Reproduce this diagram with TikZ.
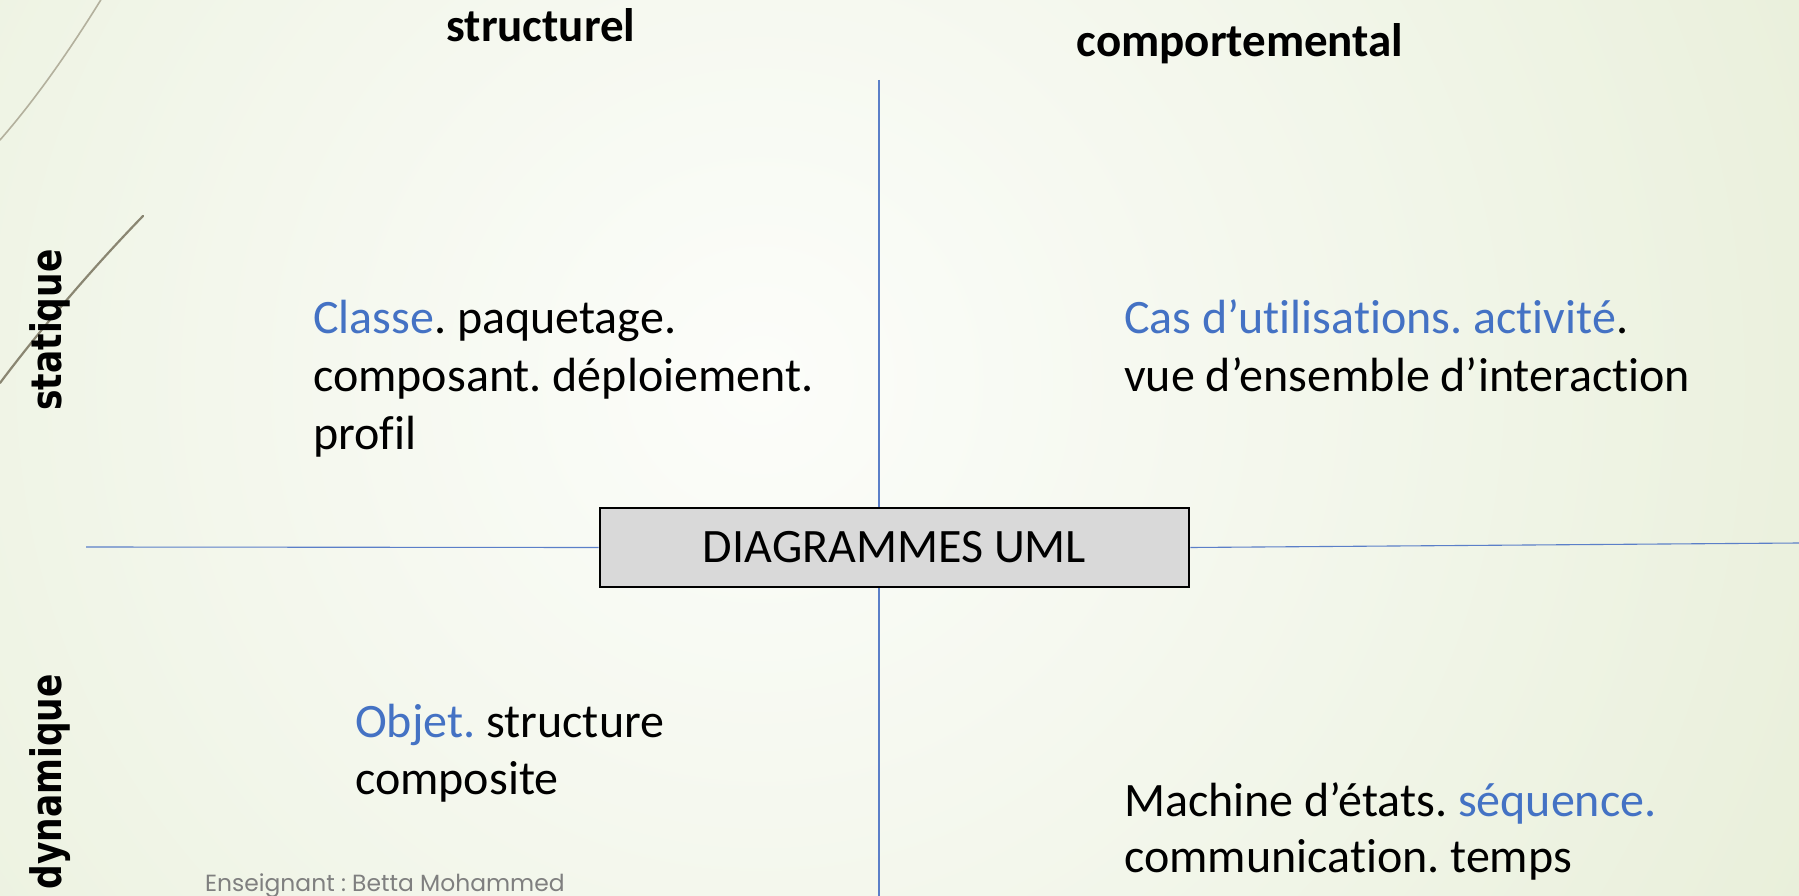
\documentclass[tikz,border=0pt]{standalone}
\usepackage{fontspec}
\setmainfont{Carlito}[RawFeature={-liga;-clig}]
\newfontfamily\sidefont{DejaVu Sans}
\newfontfamily\footfont{Poppins}
\frenchspacing
\definecolor{ublue}{HTML}{4472C4}
\definecolor{lineblue}{HTML}{5B7FC8}
\definecolor{boxgray}{HTML}{D9D9D9}
\definecolor{footgray}{HTML}{7F7F7F}
\definecolor{grassA}{HTML}{B3B09D}
\definecolor{grassB}{HTML}{8A8672}
\definecolor{bgin}{HTML}{FCFDFA}
\definecolor{bgmid}{HTML}{F2F6EA}
\definecolor{bgout}{HTML}{DEE7C7}
\pgfdeclareradialshading{bgshade}{\pgfpoint{0bp}{0bp}}{color(0bp)=(bgin); color(13bp)=(bgmid); color(38bp)=(bgout); color(50bp)=(bgout)}
\begin{document}
\begin{tikzpicture}[x=1pt,y=-1pt,
  body/.style={inner sep=0pt, anchor=base west, font=\fontsize{48}{58}\selectfont, text=black},
  head/.style={inner sep=0pt, anchor=base, font=\fontsize{47}{58}\selectfont\bfseries, text=black},
  side/.style={inner sep=0pt, rotate=90, xscale=0.82, font=\sidefont\bfseries\fontsize{42}{46}\selectfont, text=black},
  axis/.style={draw=lineblue, line width=1.1pt},
  umlbox/.style={draw=black, line width=2.6pt, fill=boxgray, inner sep=0pt, minimum width=589, minimum height=79, font=\fontsize{48}{58}\selectfont},
  footer/.style={inner sep=0pt, anchor=base west, font=\footfont\fontsize{23.4}{27}\selectfont, text=footgray}
]
\useasboundingbox (0,0) rectangle (1799,896);
% background
\begin{scope}
\clip (0,0) rectangle (1799,896);
\shade[shading=bgshade] (760,380) circle (1200);
\end{scope}
% grass strokes
\draw[draw=grassA, line width=1.6pt, line cap=round] (102,-2) .. controls (70,50) and (35,100) .. (0,140);
\draw[draw=grassB, line width=2.2pt, line cap=round] (143,216) .. controls (110,250) and (55,310) .. (0,383);
% axes
\coordinate (vt) at (879,80);
\coordinate (vb) at (879,896);
\coordinate (hl) at (86,547);
\coordinate (hr) at (1799,543);
\draw[axis] (vt) -- (vb);
\node[umlbox] (box) at (894.5,547.5) {DIAGRAMMES UML};
\draw[axis] (hl) -- (box.west);
\draw[axis] (box.east) -- (hr);
% headers
\node[head] (structurel) at (541,42) {structurel};
\node[head] (comport) at (1240,57) {comportemental};
\node[side, anchor=base] (statique) at (61,330) {statique};
\node[side, anchor=base east] (dynamique) at (61,674) {dynamique};
% top-left
\node[body] (tl1) at (313,333) {{\color{ublue}Classe}. paquetage.};
\node[body] (tl2) at (313,391) {composant. déploiement.};
\node[body] (tl3) at (313,449) {profil};
% top-right
\node[body] (tr1) at (1124,333) {{\color{ublue}Cas d’utilisations. activité}.};
\node[body] (tr2) at (1124,391) {vue d’ensemble d’interaction};
% bottom-left
\node[body] (bl1) at (355,737) {{\color{ublue}Objet.} structure};
\node[body] (bl2) at (355,794) {composite};
% bottom-right
\node[body] (br1) at (1124,816) {Machine d’états. {\color{ublue}séquence.}};
\node[body] (br2) at (1124,872) {communication. temps};
% footer
\node[footer] (foot) at (205,891) {Enseignant : Betta Mohammed};
\end{tikzpicture}
\end{document}
